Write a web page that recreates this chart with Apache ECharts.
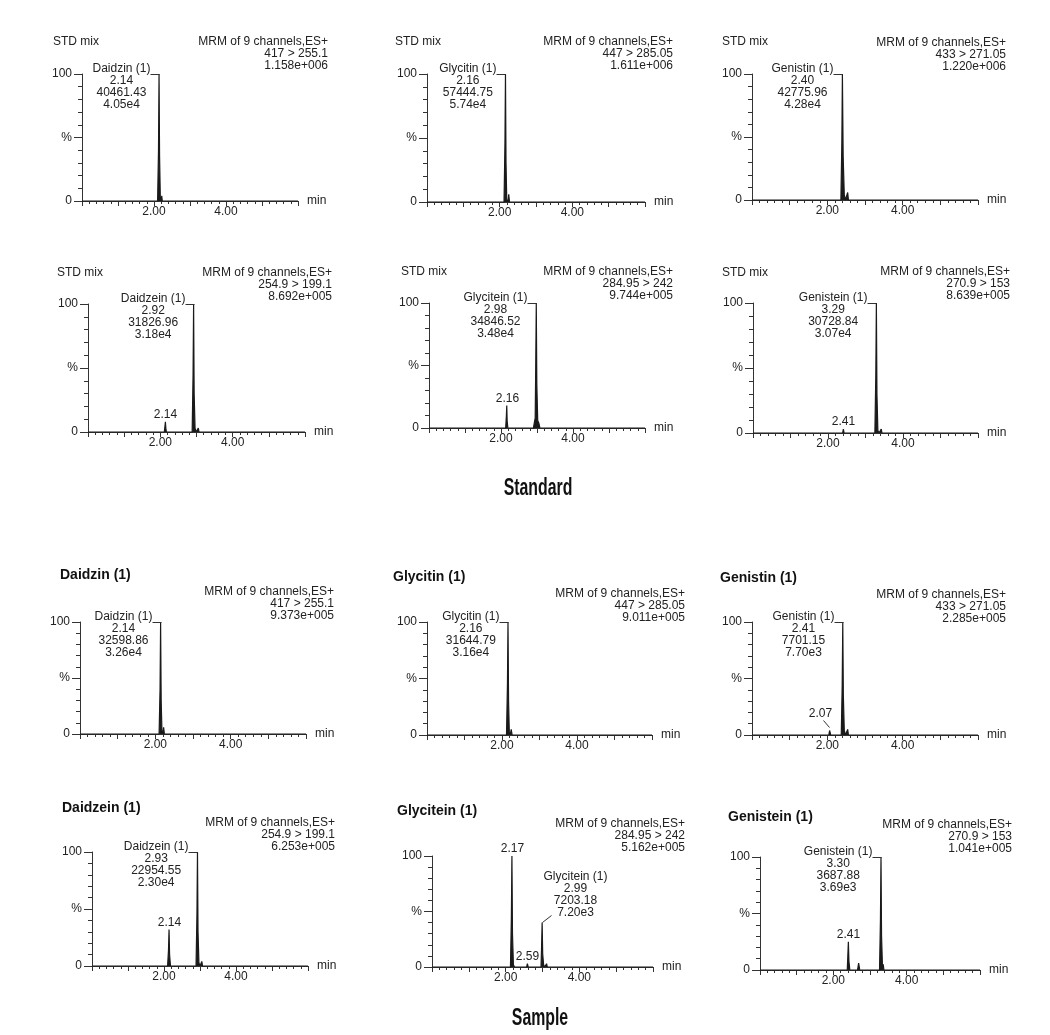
<!DOCTYPE html>
<html><head><meta charset="utf-8">
<script src="https://cdn.jsdelivr.net/npm/echarts@6/dist/echarts.min.js"></script>
<style>html,body{margin:0;padding:0;background:#fff}#c{width:1050px;height:1035px}</style>
</head><body><div id="c"></div><script>
// ---------------- DATA ----------------
const panelHeaders = ['STD mix','STD mix','STD mix','STD mix','STD mix','STD mix',
  'Daidzin (1)','Glycitin (1)','Genistin (1)','Daidzein (1)','Glycitein (1)','Genistein (1)'];
const scanLine = 'MRM of 9 channels,ES+';
const transitions = ['417 > 255.1','447 > 285.05','433 > 271.05','254.9 > 199.1','284.95 > 242','270.9 > 153',
  '417 > 255.1','447 > 285.05','433 > 271.05','254.9 > 199.1','284.95 > 242','270.9 > 153'];
const basePeakIntensity = ['1.158e+006','1.611e+006','1.220e+006','8.692e+005','9.744e+005','8.639e+005',
  '9.373e+005','9.011e+005','2.285e+005','6.253e+005','5.162e+005','1.041e+005'];
const xTickLabels = {2: '2.00', 4: '4.00'};
const yTickLabels = {0: '0', 50: '%', 100: '100'};
const xAxisName = 'min';
const captions = ['Standard', 'Sample'];

// chromatogram traces: [retention time (min), relative intensity (%)]
const trace1 = [[0,0],[2.10,0],[2.125,40],[2.14,100],[2.155,35],[2.175,3],[2.2,0],[2.215,4],[2.23,0],[6,0]];
const trace2 = [[0,0],[2.12,0],[2.145,45],[2.16,100],[2.175,30],[2.195,2],[2.23,0],[2.25,6],[2.27,0],[6,0]];
const trace3 = [[0,0],[2.36,0],[2.385,45],[2.40,100],[2.42,35],[2.45,4],[2.48,0],[2.52,0],[2.54,6],[2.56,0],[6,0]];
const trace4 = [[0,0],[2.11,0],[2.13,5],[2.14,8],[2.155,2],[2.17,0],[2.88,0],[2.905,45],[2.92,100],[2.935,30],[2.96,3],[2.99,0],[3.03,0],[3.05,3],[3.07,0],[6,0]];
const trace5 = [[0,0],[2.13,0],[2.15,10],[2.16,18],[2.17,6],[2.19,0],[2.90,0],[2.93,5],[2.95,8],[2.965,50],[2.98,100],[2.995,35],[3.02,6],[3.05,4],[3.08,0],[6,0]];
const trace6 = [[0,0],[2.39,0],[2.41,3],[2.43,0],[3.25,0],[3.275,45],[3.29,100],[3.305,30],[3.33,2],[3.36,0],[3.40,0],[3.42,3],[3.44,0],[6,0]];
const trace7 = [[0,0],[2.10,0],[2.125,40],[2.14,100],[2.155,30],[2.175,3],[2.2,0],[2.22,6],[2.24,0],[6,0]];
const trace8 = [[0,0],[2.12,0],[2.145,45],[2.16,100],[2.175,30],[2.195,2],[2.22,0],[2.245,5],[2.27,0],[6,0]];
const trace9 = [[0,0],[2.04,0],[2.06,4],[2.07,5],[2.09,0],[2.37,0],[2.395,45],[2.41,100],[2.425,35],[2.45,4],[2.48,0],[2.52,0],[2.54,5],[2.56,0],[6,0]];
const trace10 = [[0,0],[2.10,0],[2.125,14],[2.14,32],[2.155,10],[2.18,0],[2.89,0],[2.915,45],[2.93,100],[2.945,30],[2.97,3],[3.0,0],[3.03,0],[3.05,4],[3.07,0],[6,0]];
const trace11 = [[0,0],[2.13,0],[2.155,45],[2.17,100],[2.185,30],[2.21,2],[2.24,0],[2.57,0],[2.59,3],[2.61,0],[2.96,0],[2.975,18],[2.99,40],[3.005,12],[3.03,2],[3.06,0],[3.09,0],[3.11,3],[3.13,0],[6,0]];
const trace12 = [[0,0],[2.38,0],[2.395,12],[2.41,25],[2.425,8],[2.45,0],[2.66,0],[2.69,6],[2.72,0],[3.26,0],[3.285,45],[3.30,100],[3.315,30],[3.34,3],[3.36,5],[3.38,0],[6,0]];
const traces = [trace1,trace2,trace3,trace4,trace5,trace6,trace7,trace8,trace9,trace10,trace11,trace12];

// peak annotations: apex (time, %) and text lines
const peaks1 = [{t:2.14, v:100, text:['Daidzin (1)','2.14','40461.43','4.05e4']}];
const peaks2 = [{t:2.16, v:100, text:['Glycitin (1)','2.16','57444.75','5.74e4']}];
const peaks3 = [{t:2.40, v:100, text:['Genistin (1)','2.40','42775.96','4.28e4']}];
const peaks4 = [{t:2.92, v:100, text:['Daidzein (1)','2.92','31826.96','3.18e4']},{t:2.14, v:8, text:['2.14']}];
const peaks5 = [{t:2.98, v:100, text:['Glycitein (1)','2.98','34846.52','3.48e4']},{t:2.16, v:18, text:['2.16']}];
const peaks6 = [{t:3.29, v:100, text:['Genistein (1)','3.29','30728.84','3.07e4']},{t:2.41, v:3, text:['2.41']}];
const peaks7 = [{t:2.14, v:100, text:['Daidzin (1)','2.14','32598.86','3.26e4']}];
const peaks8 = [{t:2.16, v:100, text:['Glycitin (1)','2.16','31644.79','3.16e4']}];
const peaks9 = [{t:2.41, v:100, text:['Genistin (1)','2.41','7701.15','7.70e3']},{t:2.07, v:5, text:['2.07']}];
const peaks10 = [{t:2.93, v:100, text:['Daidzein (1)','2.93','22954.55','2.30e4']},{t:2.14, v:32, text:['2.14']}];
const peaks11 = [{t:2.17, v:100, text:['2.17']},{t:2.99, v:40, text:['Glycitein (1)','2.99','7203.18','7.20e3']},{t:2.59, v:3, text:['2.59']}];
const peaks12 = [{t:3.30, v:100, text:['Genistein (1)','3.30','3687.88','3.69e3']},{t:2.41, v:25, text:['2.41']}];
const peakSets = [peaks1,peaks2,peaks3,peaks4,peaks5,peaks6,peaks7,peaks8,peaks9,peaks10,peaks11,peaks12];

// ---------------- LAYOUT / STYLE ----------------
const FF = '"Liberation Sans", Arial, sans-serif';
const TEXT = '#222';
const AXIS = '#333';
const gridBoxes = [
  [82,74,216,127],[427,74,218,128],[752,74,226,126],
  [88,304,217,128],[429,303,216,125],[753,303,225,130],
  [80,622,226,112],[427,622,225,113],[752,622,226,113],
  [92,852,216,114],[432,856,221,111],[760,857,220,113]];
const headerPos = [
  [53,42,328,42],[395,42,673,42],[722,42,1006,43],
  [57,273,332,273],[401,272,673,272],[722,273,1010,272],
  [60,575,334,592],[393,577,685,594],[720,578,1006,595],
  [62,808,335,823],[397,811,685,824],[728,817,1012,825]];
const annoPlacement = [['left'],['left'],['left'],['left','above'],['left','above'],['left','above'],
  ['left'],['left'],['left','upLeft'],['left','above'],['above','upRight','above'],['left','above']];
const captionPos = [[538,488],[540,1018]];

const chart = echarts.init(document.getElementById('c'), null, {renderer:'canvas'});
const grids = [], xAxes = [], yAxes = [], series = [];
traces.forEach((tr, i) => {
  const [l,t,w,h] = gridBoxes[i];
  grids.push({left:l, top:t, width:w, height:h, containLabel:false});
  xAxes.push({
    type:'value', gridIndex:i, min:0, max:6, interval:1,
    axisLine:{onZero:false, lineStyle:{color:AXIS, width:1}},
    axisTick:{show:true, length:5, lineStyle:{color:AXIS, width:1}},
    minorTick:{show:true, splitNumber:5, length:3, lineStyle:{color:AXIS, width:1}},
    axisLabel:{formatter:v => xTickLabels[v] || '', margin:5, color:TEXT, fontSize:12, fontFamily:FF},
    splitLine:{show:false}, minorSplitLine:{show:false},
    name:xAxisName, nameLocation:'end', nameGap:9,
    nameTextStyle:{color:TEXT, fontSize:12, fontFamily:FF, verticalAlign:'middle', align:'left'}
  });
  yAxes.push({
    type:'value', gridIndex:i, min:0, max:100, interval:50,
    axisLine:{show:true, onZero:false, lineStyle:{color:AXIS, width:1}},
    axisTick:{show:true, length:8, lineStyle:{color:AXIS, width:1}},
    minorTick:{show:true, splitNumber:5, length:4, lineStyle:{color:AXIS, width:1}},
    axisLabel:{formatter:v => yTickLabels[v] || '', margin:10, color:TEXT, fontSize:12, fontFamily:FF},
    splitLine:{show:false}, minorSplitLine:{show:false}
  });
  series.push({type:'line', xAxisIndex:i, yAxisIndex:i, data:tr, showSymbol:false, symbol:'none',
    clip:false, silent:true, lineStyle:{color:'#1a1a1a', width:1.2},
    areaStyle:{color:'#1a1a1a', opacity:1, origin:'start'}, z:5});
});

chart.setOption({animation:false, backgroundColor:'#fff', grid:grids, xAxis:xAxes, yAxis:yAxes, series:series});

// annotations drawn relative to library-converted peak positions
const g = [];
const txt = (x, y, text, extra) => Object.assign({type:'text', x:x, y:y, silent:true, z:20,
  style:Object.assign({text:text, font:'12px ' + FF, fill:TEXT}, extra || {})});
const seg = (x1, y1, x2, y2) => ({type:'line', silent:true, z:20, shape:{x1:x1, y1:y1, x2:x2, y2:y2},
  style:{stroke:'#333', lineWidth:1}});
const richBlock = lines => lines.map(s => '{c|' + s + '}').join('\n');
const richStyle = {c:{align:'center', lineHeight:12, font:'12px ' + FF, fill:TEXT}};

panelHeaders.forEach((h, i) => {
  const [tx, ty, mx, my] = headerPos[i];
  g.push(txt(tx, ty, h, {font:(i < 6 ? '12px ' : 'bold 14px ') + FF, align:'left', verticalAlign:'middle', fill: i < 6 ? TEXT : '#111'}));
  g.push(txt(mx, my - 6, [scanLine, transitions[i], basePeakIntensity[i]].join('\n'),
    {align:'right', verticalAlign:'top', lineHeight:12}));
});

peakSets.forEach((ps, i) => {
  ps.forEach((p, k) => {
    const pt = chart.convertToPixel({gridIndex:i}, [p.t, p.v]);
    const px = Math.round(pt[0]) + 0.5, py = Math.round(pt[1]) + 0.5;
    const kind = annoPlacement[i][k];
    if (kind === 'left') {
      g.push(txt(px - 9, py - 12, richBlock(p.text), {align:'right', verticalAlign:'top', rich:richStyle}));
      g.push(seg(px - 9, py, px, py));
    } else if (kind === 'above') {
      g.push(txt(px, py - 8, p.text.join('\n'), {align:'center', verticalAlign:'middle'}));
    } else if (kind === 'upLeft') {
      g.push(txt(px - 10, py - 16, p.text.join('\n'), {align:'center', verticalAlign:'middle'}));
      g.push(seg(px - 7, py - 9, px - 1, py - 2));
    } else if (kind === 'upRight') {
      g.push(txt(px + 1, py - 53, richBlock(p.text), {align:'left', verticalAlign:'top', rich:richStyle}));
      g.push(seg(px, py - 1, px + 9, py - 8));
    }
  });
});

captions.forEach((c, i) => {
  g.push({type:'text', x:captionPos[i][0], y:captionPos[i][1], scaleX:0.66, silent:true,
    style:{text:c, font:'bold 24px "Liberation Sans Narrow", ' + FF, fill:'#111', align:'center', verticalAlign:'middle'}});
});

chart.setOption({graphic:{elements:g}});
</script></body></html>
